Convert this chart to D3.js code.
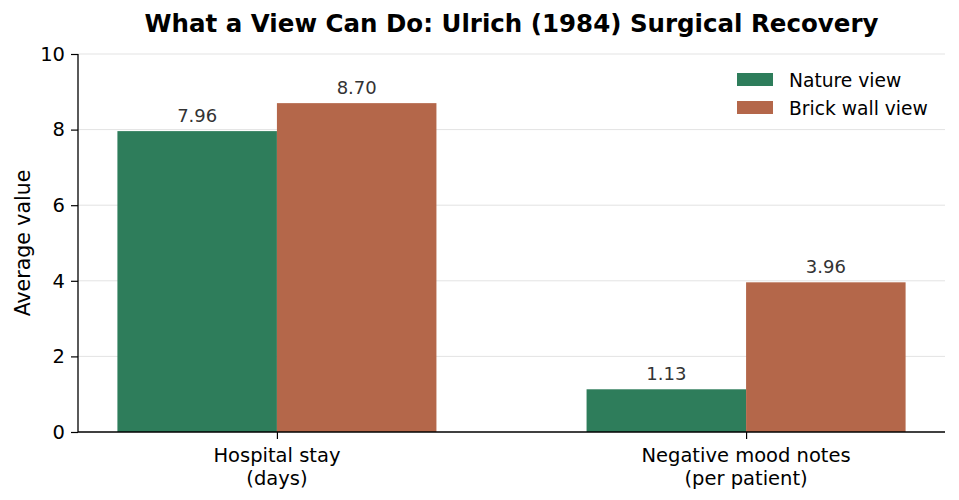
<!DOCTYPE html>
<html><head><meta charset="utf-8">
<script src="https://cdn.jsdelivr.net/npm/d3@7"></script>
<style>body{margin:0;background:#fff}svg{font-family:"DejaVu Sans",sans-serif}</style>
</head><body><svg id="c" width="959" height="500"></svg>
<script>
const categories = [["Hospital stay","(days)"],["Negative mood notes","(per patient)"]];
const seriesNames = ["Nature view","Brick wall view"];
const natureValues = [7.96, 1.13];
const brickValues = [8.70, 3.96];
const yTicks = [0,2,4,6,8,10];
const colors = ["#2e7d5b","#b4674a"];

const svg = d3.select("#c");
const L=78,R=945,T=54,B=432;
const x = d3.scaleLinear().domain([-0.424,1.424]).range([L,R]);
const y = d3.scaleLinear().domain([0,10]).range([B,T]);
const bw = 0.34;

// grid
svg.append("g").selectAll("line").data(yTicks.filter(d=>d>0)).join("line")
  .attr("x1",L).attr("x2",R).attr("y1",d=>y(d)).attr("y2",d=>y(d))
  .attr("stroke","#e3e3e3").attr("stroke-width",1);

const series = [natureValues, brickValues];
series.forEach((vals,si)=>{
  const off = si===0 ? -bw : 0;
  const g = svg.append("g");
  g.selectAll("rect").data(vals).join("rect")
    .attr("x",(d,i)=>x(i+off)).attr("width",x(bw)-x(0))
    .attr("y",d=>y(d)).attr("height",d=>y(0)-y(d))
    .attr("fill",colors[si]);
  g.selectAll("text").data(vals).join("text")
    .attr("x",(d,i)=>x(i+off+bw/2)).attr("y",d=>y(d)-9)
    .attr("text-anchor","middle").attr("font-size",18).attr("fill","#333")
    .text(d=>d.toFixed(2));
});

// y axis
const ya = svg.append("g").attr("transform",`translate(${L},0)`)
  .call(d3.axisLeft(y).tickValues(yTicks).tickSize(7).tickPadding(6).tickFormat(d3.format("d")));
ya.select(".domain").attr("stroke","#000").attr("stroke-width",1.3).attr("d",`M0,${B}V${T}`);
ya.selectAll(".tick line").attr("stroke","#000").attr("stroke-width",1.2);
ya.selectAll("text").attr("font-size",19.5).attr("fill","#000").attr("font-family","DejaVu Sans");

// x axis
const xa = svg.append("g").attr("transform",`translate(0,${B})`)
  .call(d3.axisBottom(x).tickValues([0,1]).tickSize(7).tickFormat(""));
xa.select(".domain").attr("stroke","#000").attr("stroke-width",1.3).attr("d",`M${L},0H${R}`);
xa.selectAll(".tick line").attr("stroke","#000").attr("stroke-width",1.2);
categories.forEach((lines,i)=>{
  const t = svg.append("text").attr("x",x(i)).attr("y",462).attr("text-anchor","middle")
    .attr("font-size",19.5).attr("fill","#000");
  lines.forEach((s,j)=>t.append("tspan").attr("x",x(i)).attr("dy",j?22.5:0).text(s));
});

// y label
svg.append("text").attr("transform",`translate(30,${(T+B)/2}) rotate(-90)`)
  .attr("text-anchor","middle").attr("font-size",20.5).attr("fill","#000").text("Average value");

// title
svg.append("text").attr("x",(L+R)/2).attr("y",32).attr("text-anchor","middle")
  .attr("font-size",24.5).attr("font-weight","bold").attr("fill","#000")
  .text("What a View Can Do: Ulrich (1984) Surgical Recovery");

// legend
const lg = svg.append("g");
seriesNames.forEach((n,i)=>{
  lg.append("rect").attr("x",737).attr("y",73+i*28).attr("width",36).attr("height",13).attr("fill",colors[i]);
  lg.append("text").attr("x",789).attr("y",86.5+i*28).attr("font-size",18.7).attr("fill","#000").text(n);
});
</script></body></html>
